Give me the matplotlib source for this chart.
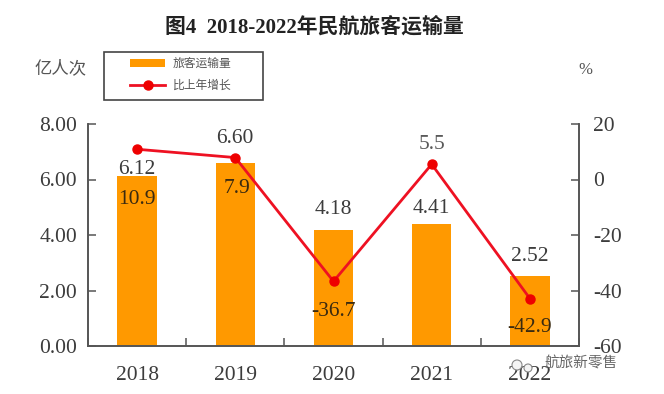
#!/usr/bin/env python3
import matplotlib
matplotlib.use('Agg')
import matplotlib.pyplot as plt
from matplotlib.patches import Rectangle, Circle
import numpy as np

years = ['2018', '2019', '2020', '2021', '2022']
passengers = [6.12, 6.60, 4.18, 4.41, 2.52]
growth = [10.9, 7.9, -36.7, 5.5, -42.9]
bar_labels = ['6.12', '6.60', '4.18', '4.41', '2.52']
line_labels = ['10.9', '7.9', '-36.7', '5.5', '-42.9']

plt.rcParams['font.family'] = ['Liberation Serif', 'Noto Sans CJK SC']
plt.rcParams['axes.unicode_minus'] = False

W, H = 664, 394
text_col = '#3c3c3c'

fig = plt.figure(figsize=(W / 100, H / 100), dpi=100)
ax = fig.add_axes([88 / W, 1 - 346 / H, (579 - 88) / W, (346 - 124) / H])
ax2 = ax.twinx()

x = np.arange(len(years))
bars = ax.bar(x, passengers, width=0.4, color='#FF9900', label='旅客运输量')
line, = ax2.plot(x, growth, color='#EE1122', marker='o', markerfacecolor='#EE0000',
                 markeredgecolor='#EE0000', markersize=6.5, linewidth=2, label='比上年增长')

ax.set_xlim(-0.5, 4.5)
ax.set_ylim(0, 8)
ax2.set_ylim(-60, 20)

# ticks sit between the categories, labels under the bars
ax.set_xticks(np.arange(-0.5, 5, 1))
ax.set_xticklabels([])
ax.set_xticks(x, minor=True)
ax.set_xticklabels(years, minor=True)
ax.tick_params(axis='x', which='minor', length=0, pad=14.5, labelsize=15.5, labelcolor=text_col)

ax.set_yticks([0, 2, 4, 6, 8])
ax.set_yticklabels(['0.00', '2.00', '4.00', '6.00', '8.00'])
ax2.set_yticks([-60, -40, -20, 0, 20])

for a in (ax, ax2):
    a.patch.set_visible(False)
    a.spines['top'].set_visible(False)
    for s in a.spines.values():
        s.set_color('#555555')
        s.set_linewidth(1.2)
    a.tick_params(which='major', labelsize=15.5, color='#555555', labelcolor=text_col,
                  length=6, width=1.1, direction='in')
ax.tick_params(axis='y', pad=8)
ax2.tick_params(axis='y', pad=10)

# label offsets in points from the bar top / line marker
bar_off = [4.5, 17.5, 15, 11, 14]
line_off = [(0, -36), (1.5, -22), (0, -21.5), (0, 14), (0, -20.5)]
for i, v in enumerate(passengers):
    ax.annotate(bar_labels[i], (i, v), xytext=(0, bar_off[i]), textcoords='offset points',
                ha='center', va='center', fontsize=15.5, color=text_col)
for i, g in enumerate(growth):
    ax2.annotate(line_labels[i], (i, g), xytext=line_off[i], textcoords='offset points',
                 ha='center', va='center', fontsize=15.5,
                 color='#5a5a5a' if i == 3 else '#3a2a10')

fig.text(314 / W, 1 - 27 / H, '图4  2018-2022年民航旅客运输量', ha='center', va='center',
         fontsize=15, fontweight='bold', color='#222222')
fig.text(61 / W, 1 - 69 / H, '亿人次', ha='center', va='center', fontsize=12.5, color='#555555')
fig.text(585 / W, 1 - 70 / H, '%', ha='center', va='center', fontsize=12, color='#555555')

# legend frame drawn separately, it is wider than the entries
fig.add_artist(Rectangle((104 / W, 1 - 100 / H), 159 / W, 48 / H, transform=fig.transFigure,
                         facecolor='white', edgecolor='#444444', linewidth=1.2, zorder=3))
leg = fig.legend(handles=[bars, line], loc='upper left', bbox_to_anchor=(130 / W, 1 - 58 / H),
                 fontsize=8.5, frameon=False, borderaxespad=0, borderpad=0,
                 handlelength=3, handletextpad=0.6, labelspacing=0.85,
                 labelcolor='#555555')
leg.set_zorder(4)

# watermark
for cx, cy, r in [(517, 365, 5), (528, 368, 4)]:
    fig.add_artist(Circle((cx, H - cy), r, transform=None, facecolor='#f4f4f4',
                          edgecolor='#888888', linewidth=0.8, zorder=5))
fig.text(581 / W, 1 - 364 / H, '航旅新零售', ha='center', va='center', fontsize=10.5,
         family=['Noto Sans CJK SC', 'DejaVu Sans'], color='#666666', zorder=6)

plt.savefig('out.png', dpi=100)
